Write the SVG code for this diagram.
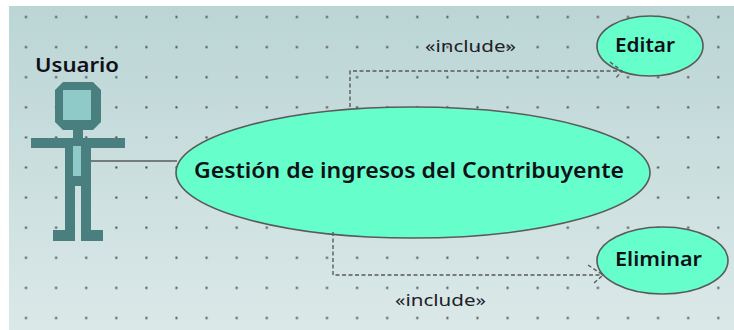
<svg xmlns="http://www.w3.org/2000/svg" width="734" height="330" viewBox="0 0 734 330">
<style>
.dark{fill:#4a7f80}
.light{fill:#8fc9c8}
.uc{fill:#66ffcc;stroke:#5a5a5a;stroke-width:1.6}
.t{font-family:"Noto Sans","Liberation Sans",Arial,sans-serif;fill:#101018}
.b{font-weight:600}
.inc{font-size:17px;fill:#202028}
.con{fill:none;stroke:#5a5a5a;stroke-width:1.4}
.dash{stroke-dasharray:4 2.5}
</style>
<defs>
<linearGradient id="bg" x1="0" y1="0" x2="0" y2="1"><stop offset="0" stop-color="#bbd5d5"/><stop offset="1" stop-color="#dbe8e8"/></linearGradient>
<pattern id="dots" width="30.1" height="30.1" patternUnits="userSpaceOnUse" x="11" y="2"><rect x="14" y="14" width="2" height="2" fill="#444"/></pattern>
</defs>
<rect width="734" height="330" fill="#fff"/>
<rect x="9" y="6" width="725" height="324" fill="url(#bg)"/>
<rect x="9" y="6" width="725" height="324" fill="url(#dots)"/>
<g id="actor-usuario">
<path class="dark" d="M63 82H93L101 90V122L93 130H83V138H125V148H91V230H103V241H81V186H75V241H53V230H65V148H31V138H73V130H63L55 122V90Z"/>
<rect class="light" x="63" y="90" width="28" height="30"/>
<rect class="light" x="73" y="146" width="8" height="30"/>
<text class="t b" x="35" y="72" font-size="19" textLength="84" lengthAdjust="spacingAndGlyphs">Usuario</text>
</g>
<g id="uc-gestion">
<ellipse class="uc" cx="413" cy="172.500" rx="237" ry="65.500"/>
<text class="t b" x="194" y="178" font-size="21" textLength="430" lengthAdjust="spacingAndGlyphs">Gestión de ingresos del Contribuyente</text>
</g>
<g id="uc-editar">
<ellipse class="uc" cx="650" cy="46" rx="53" ry="30"/>
<text class="t b" x="615" y="52" font-size="19" textLength="60" lengthAdjust="spacingAndGlyphs">Editar</text>
</g>
<g id="uc-eliminar">
<ellipse class="uc" cx="662.500" cy="260.500" rx="65.500" ry="33.500"/>
<text class="t b" x="615" y="266" font-size="19" textLength="87" lengthAdjust="spacingAndGlyphs">Eliminar</text>
</g>
<g id="connectors">
<path class="con" d="M91 161H177"/>
<path class="con dash" d="M350 107V71H622"/>
<path class="con dash" d="M610 62L622 71L615 79"/>
<path class="con dash" d="M333 232V275H603"/>
<path class="con dash" d="M588 265L603 275L593 284"/>
<text class="t inc" x="425" y="52" textLength="91" lengthAdjust="spacingAndGlyphs">«include»</text>
<text class="t inc" x="395" y="306" textLength="91" lengthAdjust="spacingAndGlyphs">«include»</text>
</g>
</svg>
